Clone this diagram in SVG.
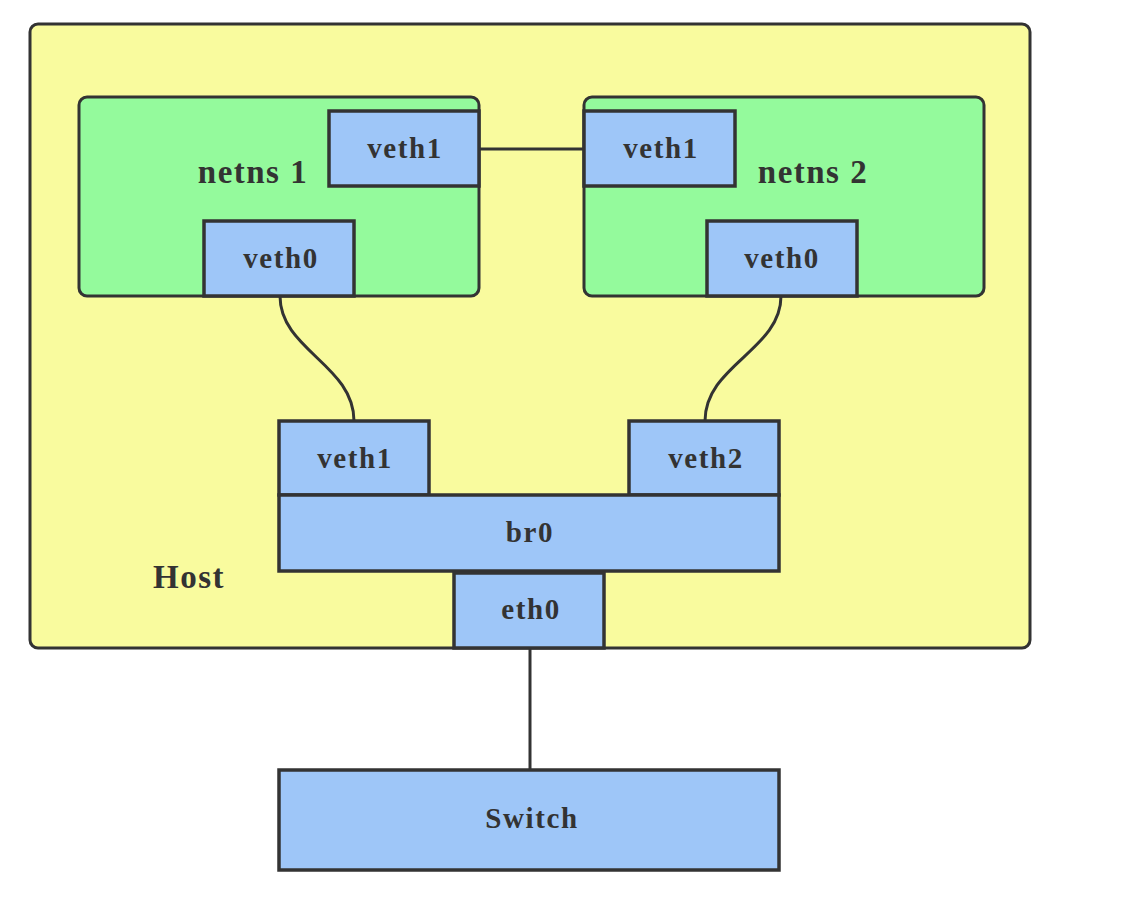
<svg xmlns="http://www.w3.org/2000/svg" width="1130" height="906" viewBox="0 0 1130 906">
<style>
.host{fill:#f9fb9e;stroke:#333;stroke-width:3}
.ns{fill:#94fa9c;stroke:#333;stroke-width:3}
.box{fill:#9ec6f8;stroke:#333;stroke-width:3.5}
.lbl{font-family:"Liberation Serif",serif;font-weight:bold;font-size:29px;letter-spacing:1.6px;fill:#333;text-anchor:middle}
.big{font-size:33px;letter-spacing:1.5px}
.conn{fill:none;stroke:#333;stroke-width:3}
</style>
<rect width="1130" height="906" fill="#fff"/>
<g id="host">
<rect class="host" x="30" y="24" width="1000" height="624" rx="8"/>
<text class="lbl big" x="189" y="588">Host</text>
</g>
<g id="netns1">
<rect class="ns" x="79" y="97" width="400" height="199" rx="8"/>
<text class="lbl big" x="253" y="183">netns 1</text>
</g>
<g id="netns2">
<rect class="ns" x="584" y="97" width="400" height="199" rx="8"/>
<text class="lbl big" x="813" y="183">netns 2</text>
</g>
<g id="connectors">
<path class="conn" d="M479,149 H584"/>
<path class="conn" d="M280,296 C280,350 354,365 354,421"/>
<path class="conn" d="M781,296 C781,350 705,365 705,421"/>
<path class="conn" d="M530,648 V770"/>
</g>
<g id="ns1-veth1">
<rect class="box" x="329" y="111" width="150" height="75"/>
<text class="lbl" x="405" y="158">veth1</text>
</g>
<g id="ns1-veth0">
<rect class="box" x="204" y="221" width="150" height="75"/>
<text class="lbl" x="281" y="268">veth0</text>
</g>
<g id="ns2-veth1">
<rect class="box" x="584" y="111" width="151" height="75"/>
<text class="lbl" x="661" y="158">veth1</text>
</g>
<g id="ns2-veth0">
<rect class="box" x="707" y="221" width="150" height="75"/>
<text class="lbl" x="782" y="268">veth0</text>
</g>
<g id="host-veth1">
<rect class="box" x="279" y="421" width="150" height="74"/>
<text class="lbl" x="355" y="468">veth1</text>
</g>
<g id="host-veth2">
<rect class="box" x="629" y="421" width="150" height="74"/>
<text class="lbl" x="706" y="468">veth2</text>
</g>
<g id="br0">
<rect class="box" x="279" y="495" width="500" height="76"/>
<text class="lbl" x="530" y="542">br0</text>
</g>
<g id="eth0">
<rect class="box" x="454" y="573" width="150" height="75"/>
<text class="lbl" x="531" y="619">eth0</text>
</g>
<g id="switch">
<rect class="box" x="279" y="770" width="500" height="100"/>
<text class="lbl" x="532" y="828">Switch</text>
</g>
</svg>
